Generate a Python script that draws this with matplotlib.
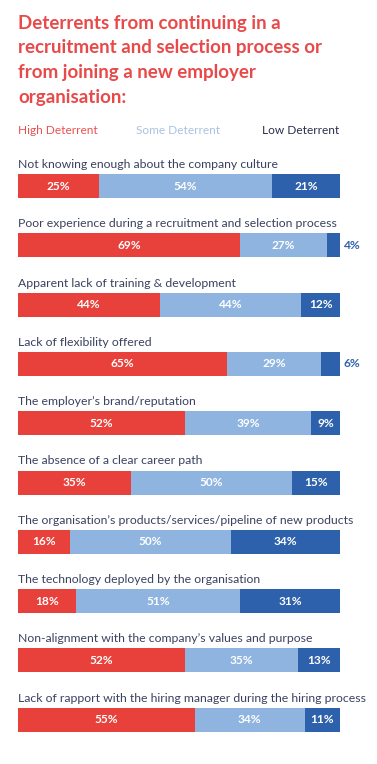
import numpy as np
import matplotlib.pyplot as plt

plt.rcParams['font.family'] = ['Lato', 'DejaVu Sans']

categories = [
    "Not knowing enough about the company culture",
    "Poor experience during a recruitment and selection process",
    "Apparent lack of training & development",
    "Lack of flexibility offered",
    "The employer\u2019s brand/reputation",
    "The absence of a clear career path",
    "The organisation\u2019s products/services/pipeline of new products",
    "The technology deployed by the organisation",
    "Non-alignment with the company\u2019s values and purpose",
    "Lack of rapport with the hiring manager during the hiring process",
]
high = [25, 69, 44, 65, 52, 35, 16, 18, 52, 55]
some = [54, 27, 44, 29, 39, 50, 50, 51, 35, 34]
low = [21, 4, 12, 6, 9, 15, 34, 31, 13, 11]
series_names = ["High Deterrent", "Some Deterrent", "Low Deterrent"]

RED = "#e8403a"
LIGHT = "#8fb4e0"
DARK = "#2e61ac"
TEXT = "#3b4160"

W, H = 377, 764
fig = plt.figure(figsize=(W / 100, H / 100), dpi=100)
fig.patch.set_facecolor("white")

# title
title_lines = ["Deterrents from continuing in a",
               "recruitment and selection process or",
               "from joining a new employer",
               "organisation:"]
for k, line in enumerate(title_lines):
    fig.text(18 / W, 1 - (29 + 24.5 * k) / H, line, color="#e84a4a",
             fontsize=13.5, fontweight="bold", va="baseline")

# legend
leg_x = [18, 136, 262]
leg_c = ["#e8524e", "#a9c3e0", "#2b2f4a"]
for name, lx, lc in zip(series_names, leg_x, leg_c):
    fig.text(lx / W, 1 - 134 / H, name, color=lc, fontsize=8.6, va="baseline")

# bars
top_px, bot_px, c0, step = 140, 764, 186, 59.3
ax = fig.add_axes([18 / W, 0, (340 - 18) / W, 1 - top_px / H])
y = np.arange(len(categories))
h = 24 / step
hi = np.array(high)
so = np.array(some)
lo = np.array(low)
ax.barh(y, hi, height=h, color=RED)
ax.barh(y, so, left=hi, height=h, color=LIGHT)
ax.barh(y, lo, left=hi + so, height=h, color=DARK)

for i in range(len(categories)):
    ax.text(0, i - 18 / step, categories[i], color=TEXT, fontsize=8.8,
            va="baseline", ha="left")
    ax.text(hi[i] / 2, i, f"{hi[i]}%", color="white", fontsize=8.6,
            fontweight="bold", ha="center", va="center")
    ax.text(hi[i] + so[i] / 2, i, f"{so[i]}%", color="white", fontsize=8.6,
            fontweight="bold", ha="center", va="center")
    if lo[i] >= 9:
        ax.text(hi[i] + so[i] + lo[i] / 2, i, f"{lo[i]}%", color="white",
                fontsize=8.6, fontweight="bold", ha="center", va="center")
    else:
        ax.text(101.2, i, f"{lo[i]}%", color=DARK, fontsize=8.6,
                fontweight="bold", ha="left", va="center")

ax.set_xlim(0, 100)
ax.set_ylim((bot_px - c0) / step, (top_px - c0) / step)
ax.axis("off")

fig.savefig("out.png", dpi=100, facecolor="white")
